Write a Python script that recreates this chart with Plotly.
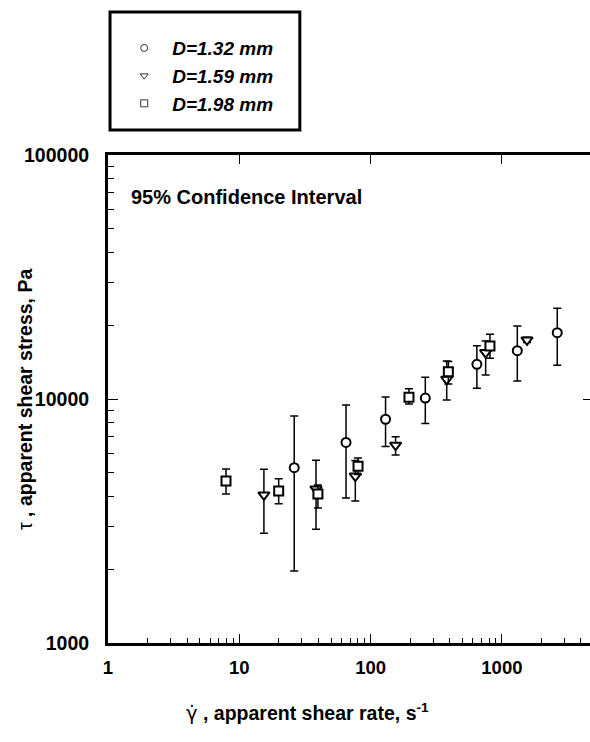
import numpy as np
import plotly.graph_objects as go

# ---- data ----
labels = ["D=1.32 mm", "D=1.59 mm", "D=1.98 mm"]

# D = 1.32 mm (circles)
c_x = [26.2, 65, 130, 261, 645, 1310, 2640]
c_y = [5230, 6640, 8260, 10090, 13870, 15780, 18700]
c_hi = [8515, 9440, 10200, 12280, 16520, 19900, 23550]
c_lo = [1972, 3928, 6380, 7945, 11070, 11860, 13740]

# D = 1.59 mm (triangles)
t_x = [15.4, 38.4, 76.5, 155, 380, 752, 1553]
t_y = [4046, 4276, 4830, 6470, 12050, 15500, 17470]
t_hi = [5150, 5613, 5600, 7000, 14320, 17300, 17900]
t_lo = [2818, 2925, 3820, 5890, 9910, 12540, 17050]

# D = 1.98 mm (squares)
s_x = [7.92, 19.95, 39.7, 80.2, 196, 391, 811]
s_y = [4613, 4198, 4083, 5305, 10160, 12940, 16480]
s_hi = [5160, 4713, 4446, 5728, 11020, 14230, 18410]
s_lo = [4083, 3722, 3574, 4900, 9550, 11530, 14700]

x_tickvals = [1, 10, 100, 1000]
x_ticktext = ["1", "10", "100", "1000"]
y_tickvals = [1000, 10000, 100000]
y_ticktext = ["1000", "10000", "100000"]

FONT = "Liberation Sans, Arial, Helvetica, sans-serif"

series = [
    (c_x, c_y, c_hi, c_lo, "circle", 9),
    (t_x, t_y, t_hi, t_lo, "triangle-down", 10),
    (s_x, s_y, s_hi, s_lo, "square", 9),
]

fig = go.Figure()
for (xs, ys, hi, lo, sym, sz), lab in zip(series, labels):
    ys_a = np.array(ys, dtype=float)
    fig.add_trace(go.Scatter(
        x=xs, y=ys, mode="markers", name=lab, showlegend=False,
        marker=dict(symbol=sym, size=sz, color="white",
                    line=dict(color="black", width=2)),
        error_y=dict(type="data", symmetric=False,
                     array=np.array(hi) - ys_a, arrayminus=ys_a - np.array(lo),
                     color="black", thickness=1.5, width=4),
    ))
    # legend-only entry (smaller, thin symbol as in the reference key)
    fig.add_trace(go.Scatter(
        x=[None], y=[None], mode="markers", name=lab, showlegend=True,
        marker=dict(symbol=sym, size=7, color="white",
                    line=dict(color="#333333", width=1)),
    ))

# invisible anchor trace for the mirrored top / right axes
fig.add_trace(go.Scatter(x=c_x, y=c_y, xaxis="x2", yaxis="y2", mode="markers",
                         marker=dict(opacity=0), showlegend=False, hoverinfo="skip"))

xrange = [0, 3.671]
yrange = [3, 5]

minor_x = [m * 10 ** d for d in range(0, 4) for m in range(2, 10)]
minor_y = [m * 10 ** d for d in range(3, 5) for m in range(2, 10)]

fig.update_layout(
    width=590, height=742,
    margin=dict(l=108, r=0, t=155, b=99),
    paper_bgcolor="white", plot_bgcolor="white",
    font=dict(family=FONT, color="black"),
    xaxis=dict(type="log", range=xrange, showgrid=False, zeroline=False,
               showline=True, linewidth=3, linecolor="black",
               ticks="inside", ticklen=9, tickwidth=1, tickcolor="black",
               tickmode="array", tickvals=x_tickvals, ticktext=x_ticktext,
               tickfont=dict(size=18.5, family=FONT, weight="bold"),
               ticklabelstandoff=6,
               minor=dict(ticks="inside", ticklen=5, tickwidth=1, tickcolor="black",
                          tickmode="array", tickvals=minor_x, showgrid=False)),
    yaxis=dict(type="log", range=yrange, showgrid=False, zeroline=False,
               showline=True, linewidth=3, linecolor="black",
               ticks="inside", ticklen=10, tickwidth=1, tickcolor="black",
               tickmode="array", tickvals=y_tickvals, ticktext=y_ticktext,
               tickfont=dict(size=19.5, family=FONT, weight="bold"),
               ticklabelstandoff=12,
               minor=dict(ticks="inside", ticklen=6, tickwidth=1, tickcolor="black",
                          tickmode="array", tickvals=minor_y, showgrid=False)),
    xaxis2=dict(type="log", range=xrange, overlaying="x", side="top", anchor="y2",
                showgrid=False, zeroline=False, showline=True, linewidth=3,
                linecolor="black", ticks="inside", ticklen=9, tickwidth=1,
                tickcolor="black", tickmode="array", tickvals=x_tickvals,
                showticklabels=False),
    yaxis2=dict(type="log", range=yrange, overlaying="y", side="right", anchor="x2",
                showgrid=False, zeroline=False, showline=False,
                ticks="inside", ticklen=7, tickwidth=1, tickcolor="black",
                tickmode="array", tickvals=[10000], showticklabels=False),
    showlegend=True,
    legend=dict(x=0.017, y=1.258, xanchor="left", yanchor="top",
                bgcolor="rgba(0,0,0,0)", borderwidth=0,
                font=dict(size=19, family=FONT, weight="bold", style="italic"),
                itemwidth=46, tracegroupgap=0),
    shapes=[dict(type="rect", xref="paper", yref="paper",
                 x0=0.0042, x1=0.398, y0=1.0512, y1=1.293,
                 line=dict(color="black", width=3), fillcolor="rgba(0,0,0,0)")],
    annotations=[
        dict(text="95% Confidence Interval", xref="paper", yref="paper",
             x=0.044, y=0.914, xanchor="left", yanchor="middle", showarrow=False,
             font=dict(size=20, family=FONT, weight="bold")),
        dict(text="τ <b>, apparent shear stress, Pa</b>", xref="paper", yref="paper",
             x=-0.172, y=0.498, xanchor="center", yanchor="middle", showarrow=False,
             textangle=-90, font=dict(size=19.5, family=FONT)),
        dict(text="<span style='font-family:DejaVu Sans'>γ̇</span> <b>, apparent shear rate, s<sup>-1</sup></b>",
             xref="paper", yref="paper",
             x=0.413, y=-0.143, xanchor="center", yanchor="middle", showarrow=False,
             font=dict(size=19.5, family=FONT)),
    ],
)

fig.write_html(
    "out.html",
    config={"displayModeBar": False},
    post_script="document.body.style.margin='0';document.body.style.overflow='hidden';",
)
